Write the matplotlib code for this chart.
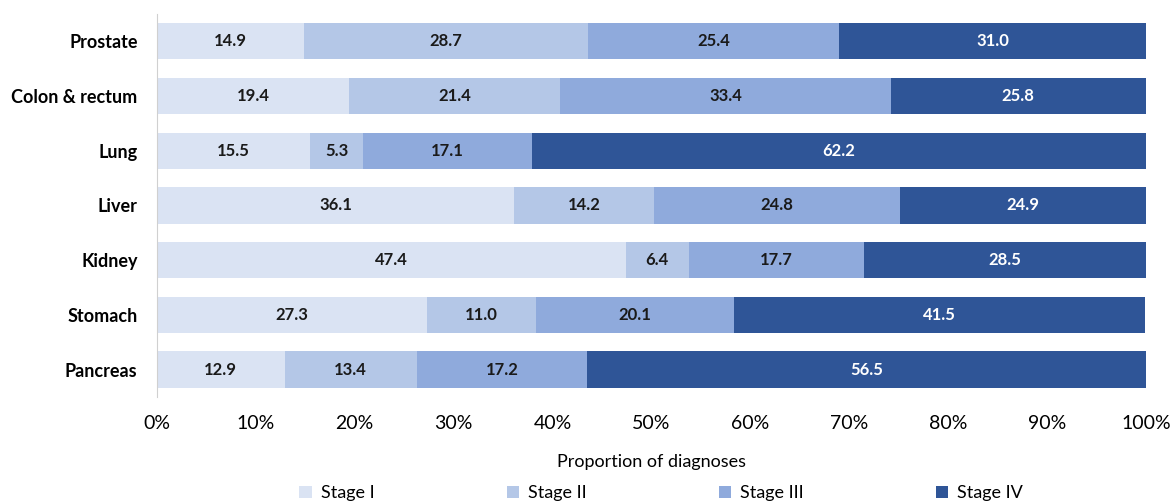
import numpy as np
import matplotlib.pyplot as plt
from matplotlib.ticker import PercentFormatter

plt.rcParams['font.family'] = ['Lato', 'DejaVu Sans']

cancers = ['Prostate', 'Colon & rectum', 'Lung', 'Liver', 'Kidney', 'Stomach', 'Pancreas']
stage1 = [14.9, 19.4, 15.5, 36.1, 47.4, 27.3, 12.9]
stage2 = [28.7, 21.4, 5.3, 14.2, 6.4, 11.0, 13.4]
stage3 = [25.4, 33.4, 17.1, 24.8, 17.7, 20.1, 17.2]
stage4 = [31.0, 25.8, 62.2, 24.9, 28.5, 41.5, 56.5]
stages = ['Stage I', 'Stage II', 'Stage III', 'Stage IV']

colors = ['#dae3f3', '#b4c7e7', '#8faadc', '#2f5597']
text_colors = ['#1a1a1a', '#1a1a1a', '#1a1a1a', 'white']

fig = plt.figure(figsize=(11.74, 5.03), dpi=100)
ax = fig.add_axes([0.1337, 0.211, 0.976 - 0.1337, 0.761])

y = np.arange(len(cancers))
left = np.zeros(len(cancers))
for vals, name, c, tc in zip([stage1, stage2, stage3, stage4], stages, colors, text_colors):
    vals = np.array(vals)
    bars = ax.barh(y, vals, left=left, height=0.66, color=c, label=name)
    ax.bar_label(bars, labels=[f'{v:.1f}' for v in vals], label_type='center',
                 color=tc, fontsize=12, fontweight='bold')
    left += vals

ax.set_ylim(len(cancers) - 0.5, -0.5)
ax.set_xlim(0, 100)
ax.set_yticks(y)
ax.set_yticklabels(cancers, fontsize=13, fontweight='bold')
ax.set_xticks(np.arange(0, 101, 10))
ax.xaxis.set_major_formatter(PercentFormatter(decimals=0))
ax.tick_params(axis='x', labelsize=14, length=0, pad=13)
ax.tick_params(axis='y', length=0, pad=14)
for s in ['top', 'right', 'bottom']:
    ax.spines[s].set_visible(False)
ax.spines['left'].set_color('#d0d0d0')
ax.set_xlabel('Proportion of diagnoses', fontsize=13, labelpad=16)

ax.legend(loc='upper center', bbox_to_anchor=(0.51, -0.212), ncol=4, frameon=False,
          fontsize=13, handlelength=0.7, handleheight=0.7, handletextpad=0.5,
          columnspacing=7.3, borderaxespad=0)

fig.savefig('out.png', dpi=100)
